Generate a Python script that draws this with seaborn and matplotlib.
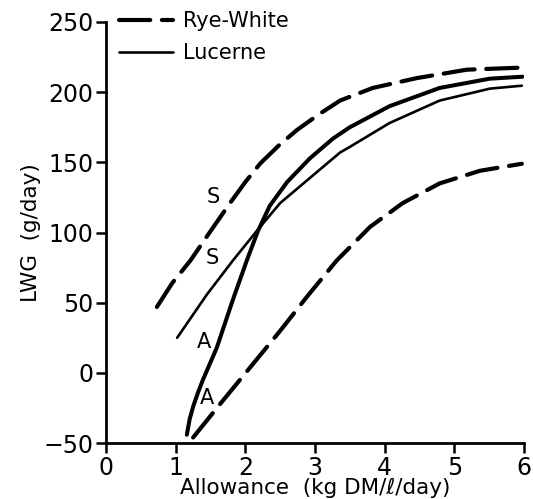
import matplotlib
matplotlib.use("Agg")
import matplotlib.pyplot as plt
import seaborn as sns

rye_s_x = [0.73, 0.95, 1.21, 1.50, 1.78, 2.00, 2.21, 2.48, 2.74, 3.05, 3.36, 3.83, 4.46, 5.18, 5.98]
rye_s_y = [47, 64, 80, 101, 121, 136, 149, 162, 173, 184, 194, 203, 210, 216, 217.5]

rye_a_x = [1.25, 1.64, 2.07, 2.50, 2.88, 3.31, 3.79, 4.26, 4.79, 5.37, 5.97]
rye_a_y = [-46, -22, 4, 30, 54, 80, 104, 121, 135, 144, 149]

luc_s_x = [1.02, 1.45, 1.82, 2.17, 2.50, 2.93, 3.36, 3.50, 4.07, 4.79, 5.51, 5.97]
luc_s_y = [25, 56, 80, 101.5, 121, 139, 157, 161, 178, 194, 202.5, 204.6]

luc_a_x = [1.16, 1.20, 1.25, 1.32, 1.39, 1.59, 1.82, 2.02, 2.18, 2.35, 2.60, 2.93, 3.26, 3.50, 4.07, 4.79, 5.51, 5.98]
luc_a_y = [-44, -33, -24, -14, -5, 18, 52, 80, 101, 119, 136, 153, 167, 175, 190, 203, 209.6, 211]

labels = ["S", "S", "A", "A"]
label_x = [1.54, 1.52, 1.41, 1.45]
label_y = [125, 82, 22, -18]

sns.set_theme(style="white")
plt.rcParams['font.family'] = ['DejaVu Sans']
plt.rcParams['text.color'] = 'black'
plt.rcParams['axes.labelcolor'] = 'black'

fig = plt.figure(figsize=(5.33, 4.99), dpi=100)
ax = fig.add_axes([0.199, 0.112, 0.784, 0.844])

dash = (0, (7.5, 2.8))
sns.lineplot(x=rye_s_x, y=rye_s_y, ax=ax, color='black', lw=3.0, linestyle=dash, sort=False, label='Rye-White')
sns.lineplot(x=luc_s_x, y=luc_s_y, ax=ax, color='black', lw=1.9, sort=False, label='Lucerne')
sns.lineplot(x=luc_a_x, y=luc_a_y, ax=ax, color='black', lw=2.9, sort=False)
sns.lineplot(x=rye_a_x, y=rye_a_y, ax=ax, color='black', lw=3.0, linestyle=dash, sort=False)
for line in ax.get_lines():
    line.set_solid_capstyle('round')
    line.set_dash_capstyle('round')
    line.set_solid_joinstyle('round')

for t, x, y in zip(labels, label_x, label_y):
    ax.text(x, y, t, fontsize=15, ha='center', va='center', color='black')

ax.set_xlim(0, 6)
ax.set_ylim(-50, 250)
ax.set_xticks(range(0, 7))
ax.set_yticks(range(-50, 251, 50))
ax.set_yticklabels(['\u221250', '0', '50', '100', '150', '200', '250'])
ax.tick_params(axis='both', direction='out', length=7, width=1.8, labelsize=17,
               colors='black', left=True, bottom=True, pad=2)
for side in ['top', 'right']:
    ax.spines[side].set_visible(False)
for side in ['left', 'bottom']:
    ax.spines[side].set_linewidth(2.0)
    ax.spines[side].set_color('black')

ax.set_xlabel('Allowance  (kg DM/\u2113/day)', fontsize=15.5, labelpad=-1, color='black')
ax.set_ylabel('LWG  (g/day)', fontsize=15.5, labelpad=2, color='black')

leg = ax.legend(loc='upper left', bbox_to_anchor=(0.01, 1.045), frameon=False, fontsize=15,
                handlelength=2.6, handletextpad=0.5, labelspacing=0.55, borderaxespad=0)
for txt in leg.get_texts():
    txt.set_color('black')

fig.savefig('out.png', dpi=100)
